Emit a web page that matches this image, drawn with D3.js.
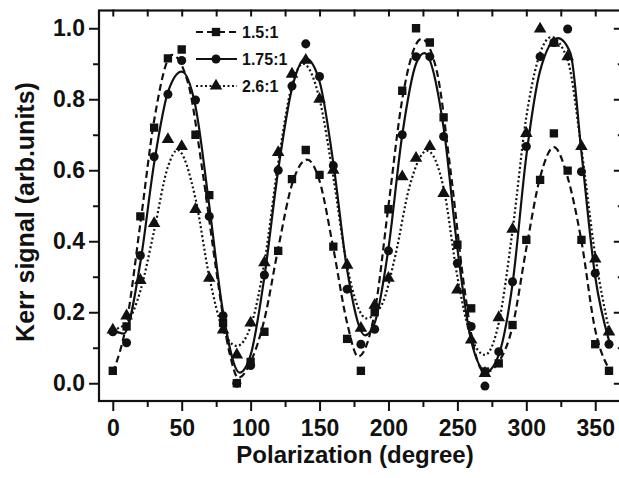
<!DOCTYPE html>
<html><head><meta charset="utf-8">
<script src="https://cdn.jsdelivr.net/npm/d3@7"></script>
<style>
body{margin:0;background:#fff}
svg{display:block}
text{font-family:"Liberation Sans",Arial,sans-serif;font-weight:bold;fill:#111}
</style></head>
<body><svg id="c" width="619" height="478"></svg>
<script>
// ---- data ----
const angles = [0,10,20,30,40,50,60,70,80,90,100,110,120,130,140,150,160,170,180,190,200,210,220,230,240,250,260,270,280,290,300,310,320,330,340,350,360];
const sq15  = [0.035,0.16,0.47,0.72,0.915,0.94,0.70,0.53,0.17,0.0,0.06,0.145,0.373,0.575,0.657,0.587,0.385,0.125,0.035,0.2,0.49,0.824,1.0,0.96,0.749,0.39,0.211,0.033,0.056,0.164,0.404,0.573,0.704,0.599,0.404,0.11,0.035];
const ci175 = [0.145,0.114,0.36,0.638,0.814,0.909,0.798,0.47,0.19,0.0,0.05,0.305,0.6,0.837,0.956,0.864,0.613,0.265,0.11,0.152,0.373,0.70,0.92,0.92,0.695,0.338,0.16,-0.008,0.089,0.286,0.667,0.92,0.96,0.998,0.596,0.31,0.11];
const tr26  = [0.15,0.19,0.29,0.45,0.687,0.667,0.49,0.296,0.15,0.08,0.17,0.34,0.65,0.871,0.91,0.80,0.6,0.333,0.155,0.22,0.296,0.582,0.634,0.667,0.535,0.263,0.122,0.028,0.185,0.434,0.704,0.998,0.958,0.92,0.667,0.35,0.145];

// fitted curves
const fitX15 = [0,10,20,30,43,55,65,75,85,91,100,110,120,130,141,150,160,170,178,190,200,210,224,235,245,255,262,270,280,290,300,310,320,330,340,350,360];
const fitY15 = [0.03,0.17,0.45,0.74,0.925,0.84,0.6,0.32,0.08,0.015,0.06,0.18,0.38,0.56,0.63,0.57,0.38,0.17,0.075,0.2,0.5,0.8,0.97,0.88,0.6,0.27,0.1,0.03,0.06,0.16,0.38,0.58,0.665,0.58,0.4,0.15,0.04];
const fitX175 = [0,8,20,30,40,50,60,70,80,92,100,110,120,130,140,150,160,170,183,190,200,210,220,226,240,250,260,271,280,290,300,310,323,332,340,350,360];
const fitY175 = [0.15,0.14,0.34,0.62,0.82,0.878,0.78,0.5,0.2,0.03,0.08,0.3,0.6,0.83,0.915,0.85,0.62,0.32,0.135,0.17,0.38,0.7,0.9,0.93,0.72,0.38,0.12,0.033,0.08,0.28,0.64,0.88,0.972,0.93,0.65,0.3,0.12];
const fitX26 = [0,10,20,30,40,47,60,70,80,90,100,110,120,130,138,150,160,170,184,195,205,215,228,240,250,260,270,280,290,300,310,318,330,340,350,360];
const fitY26 = [0.15,0.17,0.26,0.43,0.61,0.657,0.52,0.3,0.15,0.105,0.16,0.34,0.62,0.84,0.9,0.8,0.58,0.33,0.183,0.22,0.36,0.55,0.655,0.55,0.3,0.13,0.08,0.17,0.43,0.75,0.93,0.975,0.91,0.66,0.36,0.15];

const legendLabels = ["1.5:1","1.75:1","2.6:1"];
const xTicks = [0,50,100,150,200,250,300,350];
const yTicks = [0.0,0.2,0.4,0.6,0.8,1.0];
const xTitle = "Polarization (degree)";
const yTitle = "Kerr signal (arb.units)";

// ---- drawing ----
const svg = d3.select("#c");
const x = d3.scaleLinear().domain([-10,370]).range([99,622.8]);
const y = d3.scaleLinear().domain([-0.05,1.05]).range([401,10.5]);
const FS = 23;

const series = [
  {name:legendLabels[0], pts:sq15, fx:fitX15, fy:fitY15, dash:"7,4", sym:d3.symbolSquare, size:70},
  {name:legendLabels[1], pts:ci175, fx:fitX175, fy:fitY175, dash:null, sym:d3.symbolCircle, size:64},
  {name:legendLabels[2], pts:tr26, fx:fitX26, fy:fitY26, dash:"2,2.5", sym:d3.symbolTriangle, size:68}
];

const plot = svg.append("g");
plot.append("defs").append("clipPath").attr("id","clip").append("rect")
  .attr("x",99).attr("y",10.5).attr("width",524).attr("height",390.5);

const line = d3.line().x(d=>x(d[0])).y(d=>y(d[1])).curve(d3.curveMonotoneX);
series.forEach(s=>{
  const g = plot.append("g").attr("clip-path","url(#clip)");
  g.append("path").datum(s.fx.map((v,i)=>[v,s.fy[i]]))
    .attr("d",line).attr("fill","none").attr("stroke","#111")
    .attr("stroke-width",2.2).attr("stroke-dasharray",s.dash);
  g.selectAll("path.m").data(angles.map((a,i)=>[a,s.pts[i]])).join("path")
    .attr("class","m")
    .attr("transform",d=>`translate(${x(d[0])},${y(d[1])})`)
    .attr("d",d3.symbol().type(s.sym).size(s.size)).attr("fill","#111");
});

// axes
const axG = svg.append("g").attr("stroke-linecap","square");
function styleAxis(g){ g.select(".domain").remove(); g.selectAll("line").attr("stroke","#111").attr("stroke-width",2); g.selectAll("text").attr("font-size",FS).attr("font-family","Liberation Sans, Arial, sans-serif").attr("font-weight","bold").attr("fill","#111"); }

const xMinor = [25,75,125,175,225,275,325];
const yMinor = [0.1,0.3,0.5,0.7,0.9];
const xAll = [0,25,50,75,100,125,150,175,200,225,250,275,300,325,350];

axG.append("g").attr("transform","translate(0,401)")
  .call(d3.axisBottom(x).tickValues(xTicks).tickSize(9).tickPadding(10)).call(styleAxis);
axG.append("g").attr("transform","translate(0,401)")
  .call(d3.axisBottom(x).tickValues(xMinor).tickSize(5).tickFormat("")).call(styleAxis);
axG.append("g").attr("transform","translate(99,0)")
  .call(d3.axisLeft(y).tickValues(yTicks).tickSize(9).tickPadding(5).tickFormat(d3.format(".1f"))).call(styleAxis);
axG.append("g").attr("transform","translate(99,0)")
  .call(d3.axisLeft(y).tickValues(yMinor).tickSize(5).tickFormat("")).call(styleAxis);
axG.append("g").attr("transform","translate(0,10.5)")
  .call(d3.axisBottom(x).tickValues(xAll).tickSize(5).tickFormat("")).call(styleAxis);
axG.append("g").attr("transform","translate(622.8,0)")
  .call(d3.axisLeft(y).tickValues(yTicks).tickSize(8).tickFormat("")).call(styleAxis);
axG.append("g").attr("transform","translate(622.8,0)")
  .call(d3.axisLeft(y).tickValues(yMinor).tickSize(4).tickFormat("")).call(styleAxis);

svg.append("rect").attr("x",99).attr("y",10.5).attr("width",523.8).attr("height",390.5)
  .attr("fill","none").attr("stroke","#111").attr("stroke-width",2.2);

// titles
svg.append("text").attr("x",355).attr("y",463).attr("text-anchor","middle")
  .attr("font-size",24).text(xTitle);
svg.append("text").attr("transform","translate(34,212) rotate(-90)").attr("text-anchor","middle")
  .attr("font-size",25).text(yTitle);

// legend
const leg = svg.append("g");
series.forEach((s,i)=>{
  const ly = 32 + i*27;
  leg.append("line").attr("x1",196).attr("x2",237).attr("y1",ly).attr("y2",ly)
    .attr("stroke","#111").attr("stroke-width",2.2).attr("stroke-dasharray",s.dash);
  leg.append("path").attr("transform",`translate(216,${ly})`)
    .attr("d",d3.symbol().type(s.sym).size(s.size)).attr("fill","#111");
  leg.append("text").attr("x",242).attr("y",ly+6).attr("font-size",16).text(s.name);
});
</script></body></html>
